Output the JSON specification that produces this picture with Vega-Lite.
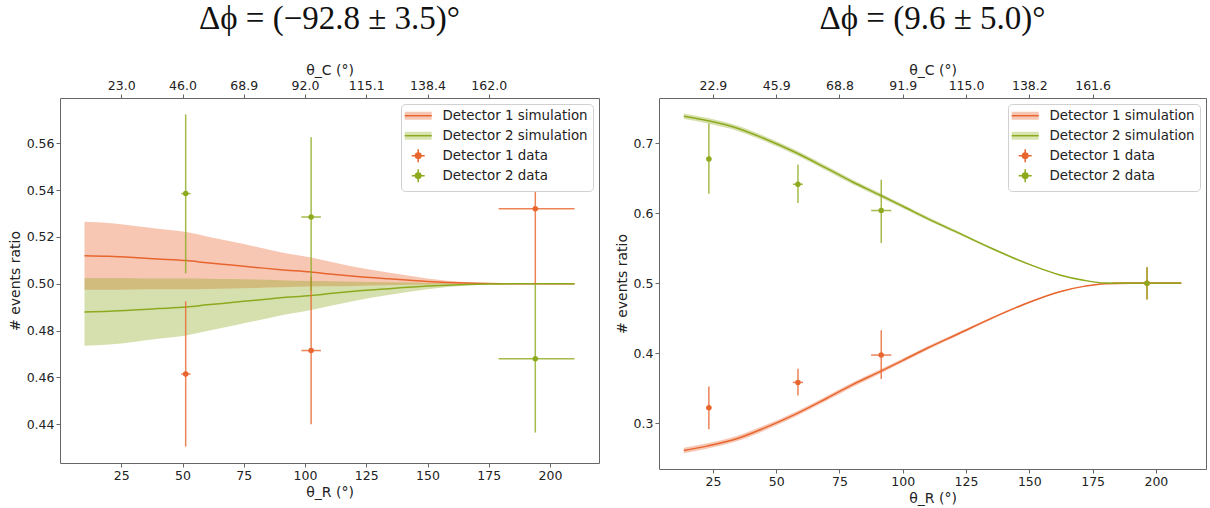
{
  "$schema": "https://vega.github.io/schema/vega-lite/v6.json",
  "background": "white",
  "padding": {"left": 7, "top": 2, "right": 0, "bottom": 0},
  "config": {
    "font": "DejaVu Sans",
    "view": {"stroke": "#666", "strokeWidth": 1},
    "axis": {"grid": false, "domain": false, "tickColor": "#666", "tickSize": 4, "labelPadding": 2, "labelFontSize": 12.5, "labelColor": "#222", "titleFontSize": 14, "titleFontWeight": "normal", "titleColor": "#222", "labelFont": "DejaVu Sans", "titleFont": "DejaVu Sans", "titlePadding": 4},
    "title": {"font": "Liberation Serif", "fontSize": 33, "fontWeight": "normal", "color": "#111", "offset": 27},
    "legend": {"title": null, "orient": "top-right", "offset": 6, "fillColor": "white", "strokeColor": "#d0d0d0", "cornerRadius": 4, "padding": 5, "rowPadding": 0, "gridAlign": "all", "labelFontSize": 13.4, "labelFont": "DejaVu Sans", "labelColor": "#222", "symbolSize": 100, "labelOffset": 23, "symbolStrokeWidth": 1.5},
    "concat": {"spacing": 14}
  },
  "datasets": {
    "simL": [
      {"leg": "Detector 1 simulation", "x": 10, "y": 0.5120, "lo": 0.4975, "hi": 0.5265},
      {"leg": "Detector 1 simulation", "x": 20, "y": 0.5117, "lo": 0.4975, "hi": 0.5259},
      {"leg": "Detector 1 simulation", "x": 30, "y": 0.5112, "lo": 0.4976, "hi": 0.5248},
      {"leg": "Detector 1 simulation", "x": 40, "y": 0.5106, "lo": 0.4977, "hi": 0.5235},
      {"leg": "Detector 1 simulation", "x": 51.5, "y": 0.5099, "lo": 0.4977, "hi": 0.5221},
      {"leg": "Detector 1 simulation", "x": 60, "y": 0.5090, "lo": 0.4978, "hi": 0.5202},
      {"leg": "Detector 1 simulation", "x": 70, "y": 0.5080, "lo": 0.4980, "hi": 0.5180},
      {"leg": "Detector 1 simulation", "x": 80, "y": 0.5070, "lo": 0.4982, "hi": 0.5158},
      {"leg": "Detector 1 simulation", "x": 90, "y": 0.5060, "lo": 0.4985, "hi": 0.5135},
      {"leg": "Detector 1 simulation", "x": 102.5, "y": 0.5050, "lo": 0.4988, "hi": 0.5112},
      {"leg": "Detector 1 simulation", "x": 110, "y": 0.5042, "lo": 0.4989, "hi": 0.5095},
      {"leg": "Detector 1 simulation", "x": 120, "y": 0.5032, "lo": 0.4991, "hi": 0.5073},
      {"leg": "Detector 1 simulation", "x": 134, "y": 0.5021, "lo": 0.4994, "hi": 0.5048},
      {"leg": "Detector 1 simulation", "x": 150, "y": 0.5010, "lo": 0.4997, "hi": 0.5023},
      {"leg": "Detector 1 simulation", "x": 166, "y": 0.5003, "lo": 0.4999, "hi": 0.5007},
      {"leg": "Detector 1 simulation", "x": 175, "y": 0.5001, "lo": 0.5000, "hi": 0.5002},
      {"leg": "Detector 1 simulation", "x": 185, "y": 0.5, "lo": 0.5, "hi": 0.5},
      {"leg": "Detector 1 simulation", "x": 195, "y": 0.5, "lo": 0.5, "hi": 0.5},
      {"leg": "Detector 1 simulation", "x": 210, "y": 0.5, "lo": 0.5, "hi": 0.5},
      {"leg": "Detector 2 simulation", "x": 10, "y": 0.4880, "lo": 0.4735, "hi": 0.5025},
      {"leg": "Detector 2 simulation", "x": 20, "y": 0.4883, "lo": 0.4741, "hi": 0.5025},
      {"leg": "Detector 2 simulation", "x": 30, "y": 0.4888, "lo": 0.4752, "hi": 0.5024},
      {"leg": "Detector 2 simulation", "x": 40, "y": 0.4894, "lo": 0.4765, "hi": 0.5023},
      {"leg": "Detector 2 simulation", "x": 51.5, "y": 0.4901, "lo": 0.4779, "hi": 0.5023},
      {"leg": "Detector 2 simulation", "x": 60, "y": 0.4910, "lo": 0.4798, "hi": 0.5022},
      {"leg": "Detector 2 simulation", "x": 70, "y": 0.4920, "lo": 0.4820, "hi": 0.5020},
      {"leg": "Detector 2 simulation", "x": 80, "y": 0.4930, "lo": 0.4842, "hi": 0.5018},
      {"leg": "Detector 2 simulation", "x": 90, "y": 0.4940, "lo": 0.4865, "hi": 0.5015},
      {"leg": "Detector 2 simulation", "x": 102.5, "y": 0.4950, "lo": 0.4888, "hi": 0.5012},
      {"leg": "Detector 2 simulation", "x": 110, "y": 0.4958, "lo": 0.4905, "hi": 0.5011},
      {"leg": "Detector 2 simulation", "x": 120, "y": 0.4968, "lo": 0.4927, "hi": 0.5009},
      {"leg": "Detector 2 simulation", "x": 134, "y": 0.4979, "lo": 0.4952, "hi": 0.5006},
      {"leg": "Detector 2 simulation", "x": 150, "y": 0.4990, "lo": 0.4977, "hi": 0.5003},
      {"leg": "Detector 2 simulation", "x": 166, "y": 0.4997, "lo": 0.4993, "hi": 0.5001},
      {"leg": "Detector 2 simulation", "x": 175, "y": 0.4999, "lo": 0.4998, "hi": 0.5000},
      {"leg": "Detector 2 simulation", "x": 185, "y": 0.5, "lo": 0.5, "hi": 0.5},
      {"leg": "Detector 2 simulation", "x": 195, "y": 0.5, "lo": 0.5, "hi": 0.5},
      {"leg": "Detector 2 simulation", "x": 210, "y": 0.5, "lo": 0.5, "hi": 0.5}
    ],
    "datL": [
      {"leg": "Detector 1 data", "x": 51.3, "xlo": 49.5, "xhi": 53.3, "y": 0.4615, "ylo": 0.4305, "yhi": 0.4925},
      {"leg": "Detector 1 data", "x": 102.5, "xlo": 98.5, "xhi": 106.5, "y": 0.4715, "ylo": 0.4400, "yhi": 0.5030},
      {"leg": "Detector 1 data", "x": 194, "xlo": 179, "xhi": 210, "y": 0.5320, "ylo": 0.5000, "yhi": 0.5640},
      {"leg": "Detector 2 data", "x": 51.3, "xlo": 49.5, "xhi": 53.3, "y": 0.5385, "ylo": 0.5045, "yhi": 0.5723},
      {"leg": "Detector 2 data", "x": 102.5, "xlo": 98.5, "xhi": 106.5, "y": 0.5285, "ylo": 0.4970, "yhi": 0.5625},
      {"leg": "Detector 2 data", "x": 194, "xlo": 179, "xhi": 210, "y": 0.4680, "ylo": 0.4365, "yhi": 0.5000}
    ],
    "simR": [
      {"leg": "Detector 1 simulation", "x": 13.5, "y": 0.2615, "lo": 0.2575, "hi": 0.2655},
      {"leg": "Detector 1 simulation", "x": 23, "y": 0.2680, "lo": 0.2641, "hi": 0.2719},
      {"leg": "Detector 1 simulation", "x": 35, "y": 0.2790, "lo": 0.2752, "hi": 0.2828},
      {"leg": "Detector 1 simulation", "x": 45, "y": 0.2930, "lo": 0.2894, "hi": 0.2966},
      {"leg": "Detector 1 simulation", "x": 57.5, "y": 0.3130, "lo": 0.3095, "hi": 0.3165},
      {"leg": "Detector 1 simulation", "x": 70, "y": 0.3360, "lo": 0.3327, "hi": 0.3393},
      {"leg": "Detector 1 simulation", "x": 80, "y": 0.3550, "lo": 0.3518, "hi": 0.3582},
      {"leg": "Detector 1 simulation", "x": 91, "y": 0.3740, "lo": 0.3710, "hi": 0.3770},
      {"leg": "Detector 1 simulation", "x": 100, "y": 0.3900, "lo": 0.3872, "hi": 0.3928},
      {"leg": "Detector 1 simulation", "x": 110, "y": 0.4080, "lo": 0.4055, "hi": 0.4105},
      {"leg": "Detector 1 simulation", "x": 122, "y": 0.4280, "lo": 0.4260, "hi": 0.4300},
      {"leg": "Detector 1 simulation", "x": 135, "y": 0.4500, "lo": 0.4485, "hi": 0.4515},
      {"leg": "Detector 1 simulation", "x": 150, "y": 0.4730, "lo": 0.4720, "hi": 0.4740},
      {"leg": "Detector 1 simulation", "x": 162, "y": 0.4880, "lo": 0.4874, "hi": 0.4886},
      {"leg": "Detector 1 simulation", "x": 172, "y": 0.4960, "lo": 0.4957, "hi": 0.4963},
      {"leg": "Detector 1 simulation", "x": 180, "y": 0.4995, "lo": 0.4994, "hi": 0.4996},
      {"leg": "Detector 1 simulation", "x": 190, "y": 0.5, "lo": 0.5, "hi": 0.5},
      {"leg": "Detector 1 simulation", "x": 200, "y": 0.5, "lo": 0.5, "hi": 0.5},
      {"leg": "Detector 1 simulation", "x": 210, "y": 0.5, "lo": 0.5, "hi": 0.5},
      {"leg": "Detector 2 simulation", "x": 13.5, "y": 0.7385, "lo": 0.7345, "hi": 0.7425},
      {"leg": "Detector 2 simulation", "x": 23, "y": 0.7320, "lo": 0.7281, "hi": 0.7359},
      {"leg": "Detector 2 simulation", "x": 35, "y": 0.7210, "lo": 0.7172, "hi": 0.7248},
      {"leg": "Detector 2 simulation", "x": 45, "y": 0.7070, "lo": 0.7034, "hi": 0.7106},
      {"leg": "Detector 2 simulation", "x": 57.5, "y": 0.6870, "lo": 0.6835, "hi": 0.6905},
      {"leg": "Detector 2 simulation", "x": 70, "y": 0.6640, "lo": 0.6607, "hi": 0.6673},
      {"leg": "Detector 2 simulation", "x": 80, "y": 0.6450, "lo": 0.6418, "hi": 0.6482},
      {"leg": "Detector 2 simulation", "x": 91, "y": 0.6260, "lo": 0.6230, "hi": 0.6290},
      {"leg": "Detector 2 simulation", "x": 100, "y": 0.6100, "lo": 0.6072, "hi": 0.6128},
      {"leg": "Detector 2 simulation", "x": 110, "y": 0.5920, "lo": 0.5895, "hi": 0.5945},
      {"leg": "Detector 2 simulation", "x": 122, "y": 0.5720, "lo": 0.5700, "hi": 0.5740},
      {"leg": "Detector 2 simulation", "x": 135, "y": 0.5500, "lo": 0.5485, "hi": 0.5515},
      {"leg": "Detector 2 simulation", "x": 150, "y": 0.5270, "lo": 0.5260, "hi": 0.5280},
      {"leg": "Detector 2 simulation", "x": 162, "y": 0.5120, "lo": 0.5114, "hi": 0.5126},
      {"leg": "Detector 2 simulation", "x": 172, "y": 0.5040, "lo": 0.5037, "hi": 0.5043},
      {"leg": "Detector 2 simulation", "x": 180, "y": 0.5005, "lo": 0.5004, "hi": 0.5006},
      {"leg": "Detector 2 simulation", "x": 190, "y": 0.5, "lo": 0.5, "hi": 0.5},
      {"leg": "Detector 2 simulation", "x": 200, "y": 0.5, "lo": 0.5, "hi": 0.5},
      {"leg": "Detector 2 simulation", "x": 210, "y": 0.5, "lo": 0.5, "hi": 0.5}
    ],
    "datR": [
      {"leg": "Detector 1 data", "x": 23.4, "xlo": 22.4, "xhi": 24.4, "y": 0.3224, "ylo": 0.2919, "yhi": 0.3529},
      {"leg": "Detector 1 data", "x": 58.6, "xlo": 56.6, "xhi": 60.6, "y": 0.3586, "ylo": 0.3400, "yhi": 0.3780},
      {"leg": "Detector 1 data", "x": 91.5, "xlo": 87.5, "xhi": 95.5, "y": 0.3976, "ylo": 0.3633, "yhi": 0.4329},
      {"leg": "Detector 1 data", "x": 196.5, "xlo": 183, "xhi": 210, "y": 0.5000, "ylo": 0.4770, "yhi": 0.5230},
      {"leg": "Detector 2 data", "x": 23.4, "xlo": 22.4, "xhi": 24.4, "y": 0.6776, "ylo": 0.6280, "yhi": 0.7280},
      {"leg": "Detector 2 data", "x": 58.6, "xlo": 56.6, "xhi": 60.6, "y": 0.6414, "ylo": 0.6147, "yhi": 0.6696},
      {"leg": "Detector 2 data", "x": 91.5, "xlo": 87.5, "xhi": 95.5, "y": 0.6039, "ylo": 0.5576, "yhi": 0.6480},
      {"leg": "Detector 2 data", "x": 196.5, "xlo": 183, "xhi": 210, "y": 0.5000, "ylo": 0.4770, "yhi": 0.5229}
    ]
  },
  "resolve": {
    "scale": {"color": "independent", "fill": "independent", "stroke": "independent", "shape": "independent", "strokeDash": "independent"},
    "legend": {"color": "independent", "fill": "independent", "stroke": "independent", "shape": "independent", "strokeDash": "independent"}
  },
  "hconcat": [
    {
      "title": {"text": "Δϕ = (−92.8 ± 3.5)°"},
      "width": 539,
      "height": 365,
      "resolve": {"axis": {"x": "independent"}},
      "layer": [
        {
          "data": {"name": "simL"},
          "mark": {"type": "area", "opacity": 0.36, "interpolate": "monotone"},
          "encoding": {
            "x": {"field": "x", "type": "quantitative", "scale": {"domain": [0, 220], "nice": false, "zero": false}, "axis": {"values": [25, 50, 75, 100, 125, 150, 175, 200], "title": "θ_R (°)"}},
            "y": {"field": "lo", "type": "quantitative", "scale": {"domain": [0.4235, 0.5793], "nice": false, "zero": false}, "axis": {"values": [0.44, 0.46, 0.48, 0.5, 0.52, 0.54, 0.56], "format": ".2f", "title": "# events ratio"}},
            "y2": {"field": "hi"},
            "color": {"field": "leg", "type": "nominal", "scale": {"domain": ["Detector 1 data", "Detector 2 data", "Detector 1 simulation", "Detector 2 simulation"], "range": ["#e8652e", "#8daa1e", "#e8652e", "#8daa1e"]}, "legend": null}
          }
        },
        {
          "data": {"name": "simL"},
          "mark": {"type": "line", "strokeWidth": 1.5, "interpolate": "monotone"},
          "encoding": {
            "x": {"field": "x", "type": "quantitative", "axis": {"orient": "top", "values": [25, 50, 75, 100, 125, 150, 175], "title": "θ_C (°)", "titlePadding": 2, "labelExpr": "datum.value==25?'23.0':datum.value==50?'46.0':datum.value==75?'68.9':datum.value==100?'92.0':datum.value==125?'115.1':datum.value==150?'138.4':'162.0'"}},
            "y": {"field": "y", "type": "quantitative"},
            "color": {"field": "leg", "type": "nominal", "legend": null}
          }
        },
        {
          "data": {"name": "datL"},
          "mark": {"type": "rule", "strokeWidth": 1.5, "opacity": 0.8},
          "encoding": {
            "x": {"field": "x", "type": "quantitative", "axis": null},
            "y": {"field": "ylo", "type": "quantitative"},
            "y2": {"field": "yhi"},
            "color": {"field": "leg", "type": "nominal", "legend": null}
          }
        },
        {
          "data": {"name": "datL"},
          "mark": {"type": "rule", "strokeWidth": 1.5, "opacity": 0.8},
          "encoding": {
            "x": {"field": "xlo", "type": "quantitative", "axis": null},
            "x2": {"field": "xhi"},
            "y": {"field": "y", "type": "quantitative"},
            "color": {"field": "leg", "type": "nominal", "legend": null}
          }
        },
        {
          "data": {"name": "datL"},
          "mark": {"type": "circle", "size": 30, "opacity": 1},
          "encoding": {
            "x": {"field": "x", "type": "quantitative", "axis": null},
            "y": {"field": "y", "type": "quantitative"},
            "color": {"field": "leg", "type": "nominal", "legend": null}
          }
        },
        {
          "data": {"values": []},
          "mark": {"type": "point", "filled": true, "opacity": 1, "strokeWidth": 1.5, "size": 100},
          "encoding": {
            "fill": {"field": "leg", "type": "nominal", "scale": {"domain": ["Detector 1 simulation", "Detector 2 simulation", "Detector 1 data", "Detector 2 data"], "range": ["#f6c7b4", "#d8e4b2", "#e8652e", "#8daa1e"]}},
            "stroke": {"field": "leg", "type": "nominal", "scale": {"domain": ["Detector 1 simulation", "Detector 2 simulation", "Detector 1 data", "Detector 2 data"], "range": ["#e8652e", "#8daa1e", "#e8652e", "#8daa1e"]}},
            "shape": {"field": "leg", "type": "nominal", "scale": {"domain": ["Detector 1 simulation", "Detector 2 simulation", "Detector 1 data", "Detector 2 data"], "range": ["M-1.6,0H3.8H-1.6H3.8H-1.6M-1.6,-0.8H3.8V0.8H-1.6Z", "M-1.6,0H3.8H-1.6H3.8H-1.6M-1.6,-0.8H3.8V0.8H-1.6Z", "M-0.2,0H2.4M1.1,-1.3V1.3M1.7,0L1.52,0.42L1.1,0.6L0.68,0.42L0.5,0L0.68,-0.42L1.1,-0.6L1.52,-0.42Z", "M-0.2,0H2.4M1.1,-1.3V1.3M1.7,0L1.52,0.42L1.1,0.6L0.68,0.42L0.5,0L0.68,-0.42L1.1,-0.6L1.52,-0.42Z"]}},
            "strokeDash": {"field": "leg", "type": "nominal", "scale": {"domain": ["Detector 1 simulation", "Detector 2 simulation", "Detector 1 data", "Detector 2 data"], "range": [[0, 81, 27, 10000], [0, 81, 27, 10000], [1, 0], [1, 0]]}}
          }
        }
      ]
    },
    {
      "title": {"text": "Δϕ = (9.6 ± 5.0)°"},
      "width": 547,
      "height": 371,
      "resolve": {"axis": {"x": "independent"}},
      "layer": [
        {
          "data": {"name": "simR"},
          "mark": {"type": "area", "opacity": 0.36, "interpolate": "monotone"},
          "encoding": {
            "x": {"field": "x", "type": "quantitative", "scale": {"domain": [3.7, 219.8], "nice": false, "zero": false}, "axis": {"values": [25, 50, 75, 100, 125, 150, 175, 200], "title": "θ_R (°)"}},
            "y": {"field": "lo", "type": "quantitative", "scale": {"domain": [0.235, 0.7645], "nice": false, "zero": false}, "axis": {"values": [0.3, 0.4, 0.5, 0.6, 0.7], "format": ".1f", "title": "# events ratio"}},
            "y2": {"field": "hi"},
            "color": {"field": "leg", "type": "nominal", "scale": {"domain": ["Detector 1 data", "Detector 2 data", "Detector 1 simulation", "Detector 2 simulation"], "range": ["#e8652e", "#8daa1e", "#e8652e", "#8daa1e"]}, "legend": null}
          }
        },
        {
          "data": {"name": "simR"},
          "mark": {"type": "line", "strokeWidth": 1.5, "interpolate": "monotone"},
          "encoding": {
            "x": {"field": "x", "type": "quantitative", "axis": {"orient": "top", "values": [25, 50, 75, 100, 125, 150, 175], "title": "θ_C (°)", "titlePadding": 2, "labelExpr": "datum.value==25?'22.9':datum.value==50?'45.9':datum.value==75?'68.8':datum.value==100?'91.9':datum.value==125?'115.0':datum.value==150?'138.2':'161.6'"}},
            "y": {"field": "y", "type": "quantitative"},
            "color": {"field": "leg", "type": "nominal", "legend": null}
          }
        },
        {
          "data": {"name": "datR"},
          "mark": {"type": "rule", "strokeWidth": 1.5, "opacity": 0.8},
          "encoding": {
            "x": {"field": "x", "type": "quantitative", "axis": null},
            "y": {"field": "ylo", "type": "quantitative"},
            "y2": {"field": "yhi"},
            "color": {"field": "leg", "type": "nominal", "legend": null}
          }
        },
        {
          "data": {"name": "datR"},
          "mark": {"type": "rule", "strokeWidth": 1.5, "opacity": 0.8},
          "encoding": {
            "x": {"field": "xlo", "type": "quantitative", "axis": null},
            "x2": {"field": "xhi"},
            "y": {"field": "y", "type": "quantitative"},
            "color": {"field": "leg", "type": "nominal", "legend": null}
          }
        },
        {
          "data": {"name": "datR"},
          "mark": {"type": "circle", "size": 30, "opacity": 1},
          "encoding": {
            "x": {"field": "x", "type": "quantitative", "axis": null},
            "y": {"field": "y", "type": "quantitative"},
            "color": {"field": "leg", "type": "nominal", "legend": null}
          }
        },
        {
          "data": {"values": []},
          "mark": {"type": "point", "filled": true, "opacity": 1, "strokeWidth": 1.5, "size": 100},
          "encoding": {
            "fill": {"field": "leg", "type": "nominal", "scale": {"domain": ["Detector 1 simulation", "Detector 2 simulation", "Detector 1 data", "Detector 2 data"], "range": ["#f6c7b4", "#d8e4b2", "#e8652e", "#8daa1e"]}},
            "stroke": {"field": "leg", "type": "nominal", "scale": {"domain": ["Detector 1 simulation", "Detector 2 simulation", "Detector 1 data", "Detector 2 data"], "range": ["#e8652e", "#8daa1e", "#e8652e", "#8daa1e"]}},
            "shape": {"field": "leg", "type": "nominal", "scale": {"domain": ["Detector 1 simulation", "Detector 2 simulation", "Detector 1 data", "Detector 2 data"], "range": ["M-1.6,0H3.8H-1.6H3.8H-1.6M-1.6,-0.8H3.8V0.8H-1.6Z", "M-1.6,0H3.8H-1.6H3.8H-1.6M-1.6,-0.8H3.8V0.8H-1.6Z", "M-0.2,0H2.4M1.1,-1.3V1.3M1.7,0L1.52,0.42L1.1,0.6L0.68,0.42L0.5,0L0.68,-0.42L1.1,-0.6L1.52,-0.42Z", "M-0.2,0H2.4M1.1,-1.3V1.3M1.7,0L1.52,0.42L1.1,0.6L0.68,0.42L0.5,0L0.68,-0.42L1.1,-0.6L1.52,-0.42Z"]}},
            "strokeDash": {"field": "leg", "type": "nominal", "scale": {"domain": ["Detector 1 simulation", "Detector 2 simulation", "Detector 1 data", "Detector 2 data"], "range": [[0, 81, 27, 10000], [0, 81, 27, 10000], [1, 0], [1, 0]]}}
          }
        }
      ]
    }
  ]
}
